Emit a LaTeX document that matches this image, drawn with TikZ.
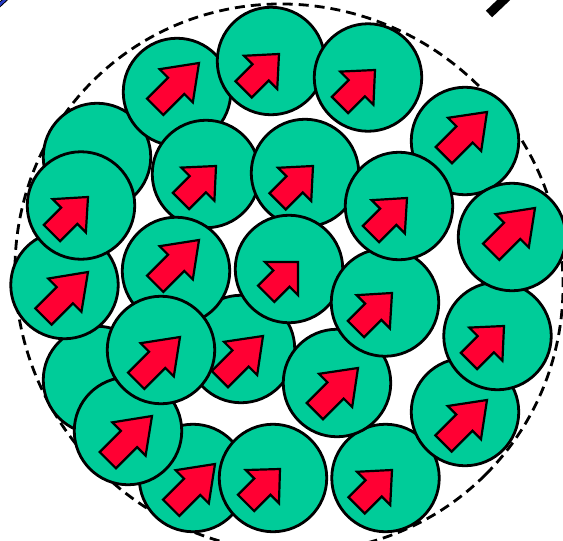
\documentclass[tikz,border=0pt]{standalone}
\definecolor{grain}{RGB}{0,204,153}
\definecolor{spinred}{RGB}{255,0,51}
\definecolor{edgeblue}{RGB}{40,60,200}
\tikzset{
  grainc/.style={circle, draw=black, line width=2.8pt, fill=grain, minimum size=107.5pt, inner sep=0pt, outer sep=0pt},
  spinarrow/.style={draw=black, line width=2.2pt, fill=spinred, line join=miter},
  boundary/.style={draw=black, line width=2.8pt, dash pattern=on 10pt off 6pt}
}
\newcommand\spin[3]{%
  \begin{scope}[shift={(#1,#2)}, x={(0.7071pt,0.7071pt)}, y={(0.7071pt,-0.7071pt)}]
    \pgfmathsetmacro\hl{-0.52*#3}
    \draw[spinarrow] (0,0) -- (\hl,-23.5) -- (\hl,-11.5) -- (-#3,-11.5) -- (-#3,11.5) -- (\hl,11.5) -- (\hl,23.5) -- cycle;
  \end{scope}}
\begin{document}
\begin{tikzpicture}[x=1pt,y=-1pt]
\clip (0,0) rectangle (563,541);
\fill[white] (0,0) rectangle (563,541);
% clipped fragments at the top corners
\draw[black, line width=4.5pt] (-4,8) -- (9,-4);
\draw[edgeblue, line width=2.5pt] (-4,8) -- (9,-4);
\draw[black, line width=9pt] (489,14) -- (511,-7);
% dashed boundary
\draw[boundary, rotate around={-45:(289,278)}] (289,278) ellipse [x radius=278pt, y radius=270pt];
% grains
\node[grainc] (g5) at (97,157) {};
\node[grainc] (g16) at (97,380) {};
\node[grainc] (g1) at (177,92) {};   \spin{199}{63}{62}
\node[grainc] (g2) at (271,61) {};   \spin{279}{54}{50}
\node[grainc] (g3) at (368,77.5) {}; \spin{375}{70}{49.5}
\node[grainc] (g4) at (465,141) {};  \spin{487}{112}{61}
\node[grainc] (g7) at (206,174) {};  \spin{216}{166}{49.5}
\node[grainc] (g8) at (305,173) {};  \spin{313}{166}{50}
\node[grainc] (g14) at (64.5,285) {}; \spin{88}{272}{63}
\node[grainc] (g6) at (81,205.5) {}; \spin{88}{197}{51}
\node[grainc] (g22) at (193,478) {}; \spin{215}{464}{62}
\node[grainc] (g21) at (128,431) {}; \spin{152}{416}{62.5}
\node[grainc] (g18) at (241,349) {}; \spin{263}{336}{61}
\node[grainc] (g11) at (176,271) {}; \spin{199}{240}{62}
\node[grainc] (g17) at (161,350) {}; \spin{180}{337}{62}
\node[grainc] (g12) at (289,269) {}; \spin{298}{262}{45}
\node[grainc] (g24) at (385.5,478) {}; \spin{392}{470}{50}
\node[grainc] (g19) at (337,383) {}; \spin{358}{368}{61}
\node[grainc] (g13) at (385,302.5) {}; \spin{392}{293}{51}
\node[grainc] (g9) at (399,206) {};  \spin{407}{198}{51}
\node[grainc] (g20) at (465,412) {}; \spin{487}{400}{61.5}
\node[grainc] (g15) at (497.5,336) {}; \spin{504}{326}{49.5}
\node[grainc] (g10) at (512,237) {}; \spin{535}{208}{62}
\node[grainc] (g23) at (273,478) {}; \spin{280}{469}{48}
\end{tikzpicture}
\end{document}
